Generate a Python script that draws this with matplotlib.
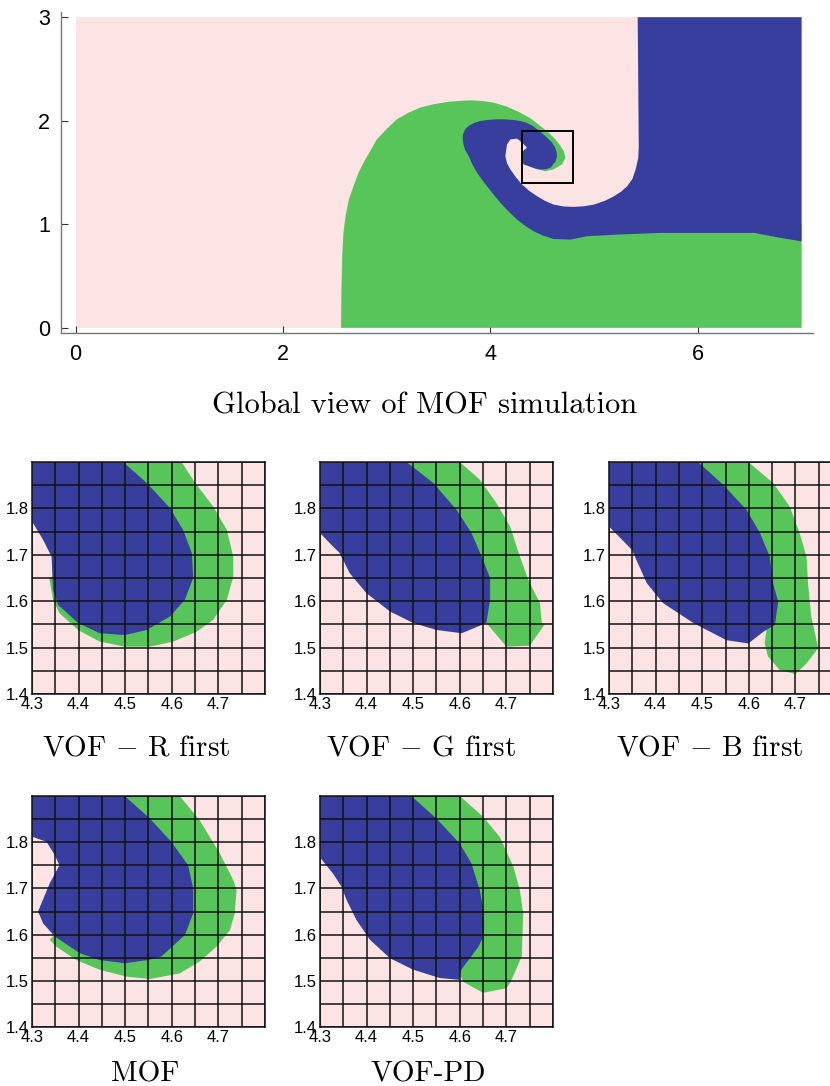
import numpy as np
import matplotlib.pyplot as plt
from matplotlib.patches import Rectangle

plt.rcParams['font.family'] = ['Liberation Sans', 'DejaVu Sans']
plt.rcParams['mathtext.fontset'] = 'cm'

PINK = '#fde4e4'
GREEN = '#58c55a'
BLUE = '#383e9e'

# ---- global view (whole domain) ----
domain_x = [0.0, 7.0]
domain_y = [0.0, 3.0]
global_xticks = [0, 2, 4, 6]
global_yticks = [0, 1, 2, 3]
zoom_box = [4.3, 4.8, 1.4, 1.9]

global_green = [
    (2.56, 0.0), (2.564, 0.368), (2.571, 0.69), (2.583, 0.917), (2.603, 1.077),
    (2.635, 1.239), (2.68, 1.368), (2.728, 1.497), (2.776, 1.594), (2.841, 1.707),
    (2.905, 1.82), (3.002, 1.923), (3.098, 2.014), (3.211, 2.078), (3.323, 2.127),
    (3.452, 2.159), (3.581, 2.181), (3.693, 2.191), (3.806, 2.197), (3.919, 2.191),
    (4.031, 2.175), (4.16, 2.136), (4.288, 2.078), (4.392, 2.02), (4.481, 1.949),
    (4.562, 1.885), (4.626, 1.82), (4.672, 1.762), (4.707, 1.707), (4.723, 1.643),
    (4.69, 1.578), (4.61, 1.53), (4.53, 1.513), (4.449, 1.53), (4.368, 1.562),
    (4.304, 1.61), (4.45, 1.65), (4.55, 1.78), (4.40, 1.90), (4.10, 1.93),
    (3.85, 1.85), (3.90, 1.60), (4.10, 1.30), (4.40, 1.10), (4.80, 1.00),
    (5.50, 1.00), (7.0, 1.0), (7.0, 0.0),
]
global_blue = [
    (5.42, 3.0), (7.0, 3.0), (7.0, 0.835), (6.80, 0.868), (6.54, 0.917),
    (5.898, 0.917), (5.64, 0.917), (5.22, 0.90), (4.93, 0.884), (4.77, 0.852),
    (4.61, 0.858), (4.51, 0.89), (4.417, 0.932), (4.335, 0.985), (4.257, 1.045),
    (4.175, 1.124), (4.096, 1.207), (4.03, 1.288), (3.967, 1.368), (3.915, 1.435),
    (3.87, 1.50), (3.825, 1.58), (3.79, 1.66), (3.755, 1.72), (3.74, 1.77),
    (3.733, 1.82), (3.735, 1.868), (3.755, 1.915), (3.79, 1.95), (3.84, 1.978),
    (3.90, 1.997), (3.98, 2.008), (4.064, 2.014), (4.144, 2.013), (4.224, 2.007),
    (4.29, 1.997), (4.35, 1.98), (4.405, 1.952), (4.45, 1.917), (4.53, 1.852),
    (4.595, 1.788), (4.625, 1.74), (4.64, 1.69), (4.641, 1.65), (4.63, 1.61),
    (4.58, 1.546), (4.53, 1.53), (4.48, 1.53), (4.43, 1.54), (4.385, 1.556),
    (4.32, 1.578), (4.295, 1.643), (4.314, 1.707), (4.353, 1.74), (4.305, 1.79),
    (4.257, 1.827), (4.192, 1.82), (4.16, 1.77), (4.144, 1.659), (4.16, 1.59),
    (4.192, 1.53), (4.245, 1.455), (4.305, 1.384), (4.375, 1.322), (4.45, 1.271),
    (4.53, 1.224), (4.61, 1.19), (4.705, 1.172), (4.803, 1.168), (4.90, 1.174),
    (4.996, 1.19), (5.10, 1.225), (5.19, 1.27), (5.26, 1.315), (5.318, 1.367),
    (5.37, 1.44), (5.40, 1.53), (5.425, 1.64), (5.43, 1.755), (5.42, 3.0),
]

# ---- zoomed panels ----
zoom_xticks = [4.3, 4.4, 4.5, 4.6, 4.7]
zoom_yticks = [1.4, 1.5, 1.6, 1.7, 1.8]
cell = 0.05

panel_titles = ['VOF $-$ R first', 'VOF $-$ G first', 'VOF $-$ B first', 'MOF', 'VOF-PD']

r_first_blue = [
    (4.3, 1.9), (4.4955, 1.9), (4.546, 1.855), (4.596, 1.801), (4.624, 1.754),
    (4.643, 1.704), (4.646, 1.65), (4.628, 1.603), (4.596, 1.567), (4.546, 1.538),
    (4.499, 1.527), (4.445, 1.531), (4.399, 1.553), (4.356, 1.592), (4.345, 1.624),
    (4.342, 1.696), (4.324, 1.732), (4.3, 1.772),
]
r_first_green = [
    (4.4955, 1.9), (4.621, 1.9), (4.65, 1.855), (4.689, 1.804), (4.718, 1.754),
    (4.732, 1.696), (4.732, 1.653), (4.718, 1.603), (4.689, 1.56), (4.653, 1.534),
    (4.603, 1.513), (4.553, 1.502), (4.499, 1.502), (4.445, 1.513), (4.399, 1.538),
    (4.359, 1.574), (4.345, 1.603), (4.337, 1.65), (4.45, 1.70),
]
g_first_blue = [
    (4.3, 1.9), (4.4855, 1.9), (4.543, 1.855), (4.593, 1.797), (4.625, 1.747),
    (4.647, 1.696), (4.665, 1.65), (4.665, 1.603), (4.657, 1.553), (4.604, 1.531),
    (4.55, 1.538), (4.5, 1.553), (4.45, 1.578), (4.40, 1.617), (4.364, 1.66),
    (4.342, 1.704), (4.321, 1.725), (4.3, 1.747),
]
g_first_green = [
    (4.4855, 1.9), (4.60, 1.9), (4.643, 1.862), (4.679, 1.811), (4.708, 1.761),
    (4.729, 1.696), (4.747, 1.646), (4.772, 1.596), (4.776, 1.553), (4.783, 1.551),
    (4.75, 1.504), (4.70, 1.502), (4.657, 1.553), (4.55, 1.70),
]
b_first_blue = [
    (4.3, 1.9), (4.491, 1.9), (4.545, 1.851), (4.595, 1.797), (4.624, 1.747),
    (4.645, 1.696), (4.652, 1.639), (4.663, 1.599), (4.656, 1.549), (4.631, 1.534),
    (4.599, 1.509), (4.552, 1.516), (4.481, 1.553), (4.416, 1.596), (4.381, 1.639),
    (4.349, 1.711), (4.3, 1.761),
]
b_first_green = [
    (4.491, 1.9), (4.599, 1.9), (4.652, 1.855), (4.688, 1.804), (4.709, 1.747),
    (4.724, 1.696), (4.727, 1.639), (4.734, 1.567), (4.749, 1.499), (4.724, 1.466),
    (4.70, 1.443), (4.666, 1.452), (4.641, 1.481), (4.634, 1.509), (4.638, 1.538),
    (4.55, 1.70),
]
mof_blue = [
    (4.3, 1.9), (4.499, 1.9), (4.553, 1.851), (4.599, 1.801), (4.635, 1.75),
    (4.646, 1.70), (4.646, 1.646), (4.628, 1.599), (4.578, 1.553), (4.549, 1.545),
    (4.499, 1.538), (4.445, 1.545), (4.402, 1.56), (4.349, 1.596), (4.324, 1.624),
    (4.313, 1.65), (4.338, 1.711), (4.359, 1.75), (4.349, 1.772), (4.331, 1.801),
    (4.3, 1.812),
]
mof_green = [
    (4.499, 1.9), (4.617, 1.9), (4.66, 1.847), (4.703, 1.776), (4.732, 1.718),
    (4.739, 1.696), (4.735, 1.646), (4.725, 1.61), (4.696, 1.574), (4.66, 1.542),
    (4.617, 1.516), (4.553, 1.504), (4.503, 1.509), (4.445, 1.524), (4.395, 1.545),
    (4.352, 1.574), (4.338, 1.589), (4.45, 1.70),
]
pd_blue = [
    (4.3, 1.9), (4.496, 1.9), (4.55, 1.851), (4.60, 1.797), (4.625, 1.754),
    (4.643, 1.696), (4.652, 1.646), (4.652, 1.599), (4.64, 1.574), (4.622, 1.549),
    (4.60, 1.52), (4.60, 1.502), (4.557, 1.506), (4.50, 1.524), (4.45, 1.549),
    (4.407, 1.589), (4.378, 1.632), (4.357, 1.675), (4.346, 1.704), (4.328, 1.732),
    (4.3, 1.767),
]
pd_green = [
    (4.496, 1.9), (4.60, 1.9), (4.65, 1.855), (4.686, 1.811), (4.715, 1.747),
    (4.729, 1.696), (4.736, 1.646), (4.733, 1.553), (4.708, 1.495), (4.70, 1.484),
    (4.65, 1.474), (4.607, 1.498), (4.60, 1.516), (4.55, 1.70),
]

panel_shapes = [
    (r_first_green, r_first_blue),
    (g_first_green, g_first_blue),
    (b_first_green, b_first_blue),
    (mof_green, mof_blue),
    (pd_green, pd_blue),
]

W, H = 830, 1086


def px_axes(fig, left, top, right, bottom):
    return fig.add_axes([left / W, 1 - bottom / H, (right - left) / W, (bottom - top) / H])


def fill_poly(ax, pts, color, z):
    pts = np.array(pts)
    ax.fill(pts[:, 0], pts[:, 1], color=color, lw=0, zorder=z)


fig = plt.figure(figsize=(W / 100, H / 100), dpi=100)

# global view
ax = px_axes(fig, 61, 12, 813, 333)
ax.fill([domain_x[0], domain_x[1], domain_x[1], domain_x[0]],
        [domain_y[0], domain_y[0], domain_y[1], domain_y[1]], color=PINK, lw=0, zorder=1)
fill_poly(ax, global_green, GREEN, 2)
fill_poly(ax, global_blue, BLUE, 3)
ax.add_patch(Rectangle((zoom_box[0], zoom_box[2]), zoom_box[1] - zoom_box[0],
                       zoom_box[3] - zoom_box[2], fill=False, ec='black', lw=1.4, zorder=5))
ax.set_xlim(-0.14, 7.11)
ax.set_ylim(-0.05, 3.05)
ax.set_xticks(global_xticks)
ax.set_yticks(global_yticks)
for s in ['top', 'right']:
    ax.spines[s].set_visible(False)
for s in ['left', 'bottom']:
    ax.spines[s].set_color('#777777')
    ax.spines[s].set_linewidth(1.0)
ax.tick_params(direction='in', length=5, color='#333333', labelsize=15.5, pad=8)
fig.text(425 / W, 1 - 414 / H, 'Global view of MOF simulation', family='cmr10',
         fontsize=22, ha='center', va='baseline')

# zoomed panels
boxes = [(32, 462, 265, 694), (320, 462, 553, 694), (609, 462, 842, 694),
         (32, 796, 265, 1027), (320, 796, 553, 1027)]
title_pos = [(136, 755), (421, 755), (710, 755), (145, 1082), (428, 1082)]
grid_x = np.arange(4.3, 4.8 + 1e-9, cell)
grid_y = np.arange(1.4, 1.9 + 1e-9, cell)

for (green, blue), box, title, tp in zip(panel_shapes, boxes, panel_titles, title_pos):
    a = px_axes(fig, *box)
    a.set_facecolor(PINK)
    fill_poly(a, green, GREEN, 2)
    fill_poly(a, blue, BLUE, 3)
    a.vlines(grid_x, 1.4, 1.9, color='#111111', lw=1.1, zorder=4)
    a.hlines(grid_y, 4.3, 4.8, color='#111111', lw=1.1, zorder=4)
    a.set_xlim(4.3, 4.8)
    a.set_ylim(1.4, 1.9)
    a.set_xticks(zoom_xticks)
    a.set_yticks(zoom_yticks)
    a.set_xticklabels([f'{v:.1f}' for v in zoom_xticks])
    a.set_yticklabels([f'{v:.1f}' for v in zoom_yticks])
    a.tick_params(length=0, labelsize=12, pad=2)
    for s in a.spines.values():
        s.set_color('#111111')
        s.set_linewidth(1.1)
    fig.text(tp[0] / W, 1 - tp[1] / H, title, family='cmr10', fontsize=21,
             ha='center', va='baseline')

fig.savefig('out.png', dpi=100)
